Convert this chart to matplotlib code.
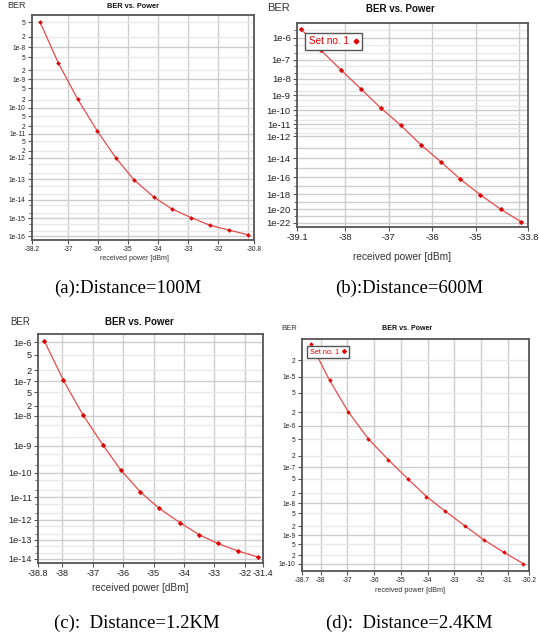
import numpy as np
import matplotlib
matplotlib.use('Agg')
import matplotlib.pyplot as plt
from matplotlib.lines import Line2D
from matplotlib.ticker import FixedLocator, NullFormatter

plt.rcParams['font.family'] = ['Liberation Sans', 'DejaVu Sans']

W, H = 539, 634

# ---------------- data ----------------
xa = [-37.94, -37.32, -36.68, -36.03, -35.41, -34.80, -34.15, -33.54, -32.89, -32.28, -31.63, -31.01]
ya = [5.2e-8, 3.3e-9, 2.1e-10, 1.35e-11, 1.0e-12, 9.5e-14, 1.4e-14, 3.3e-15, 1.1e-15, 4.2e-16, 2.2e-16, 1.2e-16]

xb = [-39.01, -38.55, -38.09, -37.63, -37.18, -36.72, -36.26, -35.80, -35.35, -34.89, -34.43, -33.97]
yb = [2.3e-6, 2.8e-7, 3.0e-8, 2.5e-9, 1.5e-10, 8e-12, 1.9e-13, 4.5e-15, 6e-17, 8e-19, 1e-20, 1.5e-22]

xc = [-38.59, -37.97, -37.32, -36.66, -36.08, -35.43, -34.81, -34.12, -33.50, -32.89, -32.23, -31.58]
yc = [1.05e-6, 1.1e-7, 1.05e-8, 1.05e-9, 1.3e-10, 1.65e-11, 3.2e-12, 6.9e-13, 1.85e-13, 6.7e-14, 2.7e-14, 1.3e-14]

xd = [-38.37, -37.67, -36.96, -36.22, -35.48, -34.74, -34.04, -33.33, -32.59, -31.89, -31.15, -30.41]
yd = [3.8e-5, 8.6e-6, 2.0e-6, 5.1e-7, 1.6e-7, 5e-8, 1.6e-8, 5.8e-9, 2.0e-9, 7e-10, 2.6e-10, 1.0e-10]

# tick labels
xt_a = [-38.2, -37, -36, -35, -34, -33, -32, -30.8]
xt_b = [-39.1, -38, -37, -36, -35, -33.8]
xt_c = [-38.8, -38, -37, -36, -35, -34, -33, -32, -31.4]
xt_d = [-38.7, -38, -37, -36, -35, -34, -33, -32, -31, -30.2]

yt_a = [5e-8, 2e-8, 1e-8, 5e-9, 2e-9, 1e-9, 5e-10, 2e-10, 1e-10, 5e-11, 2e-11, 1e-11,
        5e-12, 2e-12, 1e-12, 1e-13, 1e-14, 1e-15, 1e-16]
yl_a = ['5', '2', '1e-8', '5', '2', '1e-9', '5', '2', '1e-10', '5', '2', '1e-11',
        '5', '2', '1e-12', '1e-13', '1e-14', '1e-15', '1e-16']
ym_a = [5e-13, 2e-13, 5e-14, 2e-14, 5e-15, 2e-15, 5e-16, 2e-16]

yt_b = [1e-6, 1e-7, 1e-8, 1e-9, 1e-10, 1e-11, 1e-12, 1e-14, 1e-16, 1e-18, 1e-20, 1e-22]
yl_b = ['1e-6', '1e-7', '1e-8', '1e-9', '1e-10', '1e-11', '1e-12', '1e-14', '1e-16',
        '1e-18', '1e-20', '1e-22']
ym_b = [2e-6, 5e-7, 2e-7, 5e-8, 2e-8, 5e-9, 2e-9, 5e-10, 2e-10, 5e-11, 2e-11, 5e-12, 2e-12,
        1e-13, 1e-15, 1e-17, 1e-19, 1e-21]

yt_c = [1e-6, 5e-7, 2e-7, 1e-7, 5e-8, 2e-8, 1e-8, 1e-9, 1e-10, 1e-11, 1e-12, 1e-13, 1e-14]
yl_c = ['1e-6', '5', '2', '1e-7', '5', '2', '1e-8', '1e-9', '1e-10', '1e-11', '1e-12',
        '1e-13', '1e-14']
ym_c = [5e-9, 2e-9, 5e-10, 2e-10, 5e-11, 2e-11, 5e-12, 2e-12, 5e-13, 2e-13, 5e-14, 2e-14]

yt_d = [2e-5, 1e-5, 5e-6, 2e-6, 1e-6, 5e-7, 2e-7, 1e-7, 5e-8, 2e-8, 1e-8, 5e-9, 2e-9, 1e-9,
        5e-10, 2e-10, 1e-10]
yl_d = ['2', '1e-5', '5', '2', '1e-6', '5', '2', '1e-7', '5', '2', '1e-8', '5', '2', '1e-9',
        '5', '2', '1e-10']
ym_d = []

captions = ['(a):Distance=100M', '(b):Distance=600M', '(c):  Distance=1.2KM', '(d):  Distance=2.4KM']


# ---------------- scale ----------------
def fwd(b):
    b = np.clip(np.asarray(b, dtype=float), 1e-300, 0.999)
    return -np.log10(-np.log10(b))


def inv(v):
    return 10.0 ** (-(10.0 ** (-np.asarray(v, dtype=float))))


fig = plt.figure(figsize=(W / 100, H / 100), dpi=100)
fig.patch.set_facecolor('white')

SPINE = '#555555'
GRID = '#cdcdcd'
GRID2 = '#e8e8e8'
LINE = '#e84a4a'
MARK = '#dd0000'


def fx(px):
    return px / W


def fy(py):
    return 1 - py / H


def panel(box, x, y, xlim, ylim, xt, xgrid, yt, yl, ym, fs, ms, legend=None):
    l, t, r, b = box
    ax = fig.add_axes([fx(l), fy(b), (r - l) / W, (b - t) / H])
    ax.set_yscale('function', functions=(fwd, inv))
    ax.set_xlim(*xlim)
    ax.set_ylim(ylim[1], ylim[0])
    # grid
    for g in xgrid:
        ax.axvline(g, color=GRID, lw=1.0, zorder=0)
    for v in yt + ym:
        mant = round(v / 10 ** np.floor(np.log10(v)), 3)
        ax.axhline(v, color=GRID if mant == 1 else GRID2, lw=1.0, zorder=0)
    ax.plot(x, y, '-', color=LINE, lw=0.9, zorder=2)
    ax.plot(x, y, 'D', ms=ms, color=MARK, mec=MARK, mew=0.3, zorder=3)
    ax.set_xticks(xt)
    ax.set_xticklabels([('%g' % v) for v in xt])
    ax.set_yticks(yt)
    ax.set_yticklabels(yl)
    ax.yaxis.set_minor_locator(FixedLocator(ym))
    ax.yaxis.set_minor_formatter(NullFormatter())
    ax.xaxis.set_minor_locator(FixedLocator([]))
    ax.tick_params(which='major', direction='out', length=3, width=0.8, color=SPINE,
                   labelsize=fs, pad=1.5, labelcolor='#222222')
    ax.tick_params(which='minor', direction='out', length=2, width=0.6, color=SPINE)
    for s in ax.spines.values():
        s.set_color(SPINE)
        s.set_linewidth(1.3)
    if legend is not None:
        lx, ly, lfs = legend
        h = Line2D([], [], ls='none', marker='D', ms=ms, color=MARK)
        leg = ax.legend([h], ['Set no. 1'], loc='upper left', bbox_to_anchor=(lx, ly),
                        borderaxespad=0, markerfirst=False, fontsize=lfs, labelcolor=MARK,
                        fancybox=False, framealpha=1, edgecolor='#555555',
                        handlelength=0.6, handletextpad=0.4, borderpad=0.35)
        leg.get_frame().set_linewidth(1.0)
    return ax


# (a)
panel((32, 15, 254, 240), xa, ya, (-38.2, -30.8), (7.8e-8, 5.8e-17), xt_a,
      [-37, -36, -35, -34, -33, -32, -31], yt_a, yl_a, ym_a, 4.8, 2.0)
# (b)
panel((297, 23, 528, 227), xb, yb, (-39.1, -33.8), (3.9e-6, 2.1e-23), xt_b,
      [-38, -37, -36, -35, -34], yt_b, yl_b, ym_b, 6.8, 2.4, legend=(0.035, 0.951, 7.2))
# (c)
panel((38, 334, 263, 563), xc, yc, (-38.8, -31.4), (1.53e-6, 6e-15), xt_c,
      [-38, -37, -36, -35, -34, -33, -32], yt_c, yl_c, ym_c, 6.6, 2.4)
# (d)
panel((302, 339, 529, 571), xd, yd, (-38.7, -30.2), (4.5e-5, 5.3e-11), xt_d,
      [-38, -37, -36, -35, -34, -33, -32, -31], yt_d, yl_d, ym_d, 4.8, 1.9,
      legend=(0.022, 0.97, 5.3))

# texts
def txt(px, py, s, fs, **kw):
    fig.text(fx(px), fy(py), s, fontsize=fs, ha='center', va='center', **kw)

# BER labels
txt(16, 6, 'BER', 6.5, color='#333333')
txt(279, 8, 'BER', 8, color='#333333')
txt(20, 322, 'BER', 7, color='#333333')
txt(289, 329, 'BER', 5.5, color='#333333')
# titles
txt(133, 6, 'BER vs. Power', 5.3, fontweight='bold', color='#111111')
txt(400, 9, 'BER vs. Power', 7, fontweight='bold', color='#111111')
txt(139, 322, 'BER vs. Power', 7, fontweight='bold', color='#111111')
txt(407, 329, 'BER vs. Power', 5.1, fontweight='bold', color='#111111')
# x labels
txt(134, 259, 'received power [dBm]', 5.1, color='#333333')
txt(402, 257, 'received power [dBm]', 7.3, color='#333333')
txt(140, 588, 'received power [dBm]', 7.2, color='#333333')
txt(410, 591, 'received power [dBm]', 5.2, color='#333333')
# captions
for (cx, cy), s in zip([(128, 288), (409, 288), (137, 623), (409, 623)], captions):
    txt(cx, cy, s, 13.5, family=['Liberation Serif', 'DejaVu Serif'], color='black')

fig.savefig('out.png', dpi=100, facecolor='white')
